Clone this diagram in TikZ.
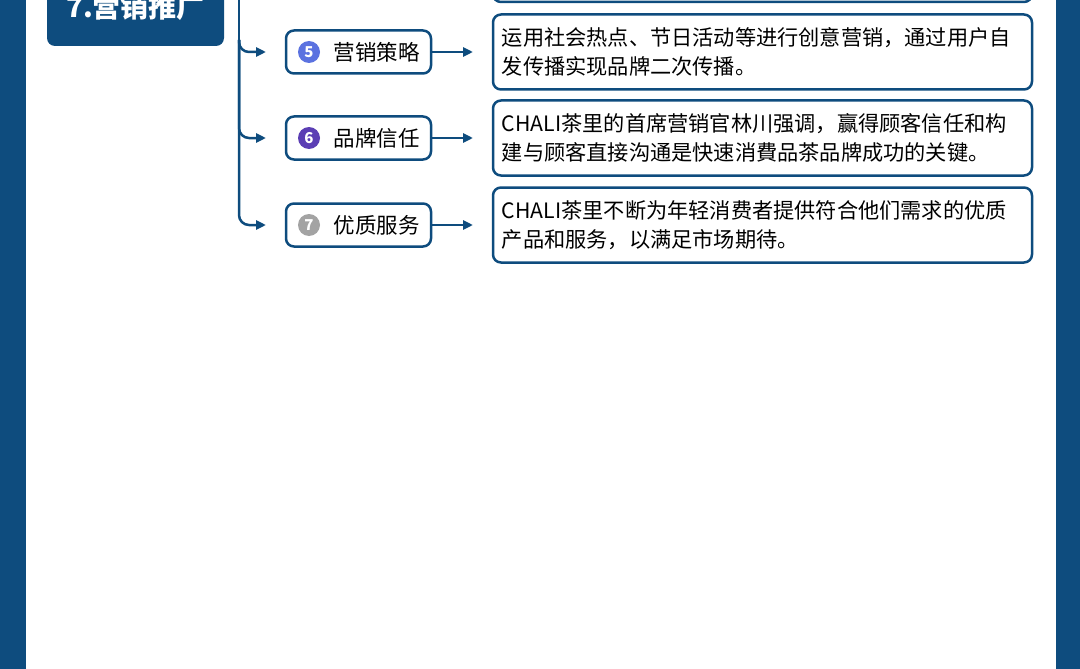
\documentclass[tikz,border=0pt]{standalone}
\usepackage{fontspec}
\setmainfont{Noto Sans CJK SC}
\usetikzlibrary{arrows.meta}
\definecolor{navy}{HTML}{0E4C7E}
\definecolor{cfive}{HTML}{5B72E0}
\definecolor{csix}{HTML}{5B3EB4}
\definecolor{cseven}{HTML}{A3A3A3}
\begin{document}
\begin{tikzpicture}[x=1pt,y=-1pt,
  lab/.style={draw=navy,line width=2.5pt,rounded corners=8pt,fill=white,minimum width=145pt,minimum height=43pt,inner sep=0pt,font=\fontsize{21.5}{24}\selectfont},
  desc/.style={draw=navy,line width=2.5pt,rounded corners=8pt,fill=white,minimum width=539pt,minimum height=75pt,inner sep=0pt},
  txt/.style={font=\fontsize{21.2}{29}\selectfont,text width=530pt,align=left,anchor=west,inner sep=0pt},
  num/.style={circle,fill=#1,text=white,inner sep=0pt,minimum size=22pt,font=\bfseries\fontsize{15}{15}\selectfont},
  arr/.style={draw=navy,line width=2.5pt,-{Triangle[length=10pt,width=9pt]}}]
\useasboundingbox (0,0) rectangle (1080,669);
\fill[navy] (0,0) rectangle (26,669);
\fill[navy] (1056,0) rectangle (1080,669);
\fill[navy,rounded corners=8pt] (47,-20) rectangle (224,46);
\node[text=white,font=\bfseries\fontsize{28}{30}\selectfont,anchor=base] (title) at (135.5,18) {7.营销推广};
\draw[navy,line width=2.5pt,rounded corners=8pt] (493,-20) rectangle (1032,2);
\foreach \y/\n/\c/\t [count=\i] in {52/5/cfive/营销策略,138/6/csix/品牌信任,225/7/cseven/优质服务}{
  \node[lab] (l\i) at (358.5,\y) {\hspace*{36pt}\t};
  \node[num=\c] (n\i) at (309,\y) {\n};
  \node[desc] (d\i) at (762.5,\y) {};
  \coordinate (e\i) at (473,\y);
  \coordinate (a\i) at (266,\y);
  \draw[arr] (l\i.east) -- (e\i);
}
\node[txt] (t1) at ([xshift=10pt]d1.west) {运用社会热点、节日活动等进行创意营销，通过用户自\\发传播实现品牌二次传播。};
\node[txt] (t2) at ([xshift=10pt]d2.west) {CHALI茶里的首席营销官林川强调，赢得顾客信任和构\\建与顾客直接沟通是快速消費品茶品牌成功的关键。};
\node[txt] (t3) at ([xshift=10pt]d3.west) {CHALI茶里不断为年轻消费者提供符合他们需求的优质\\产品和服务，以满足市场期待。};
\coordinate (top) at (239,0);
\draw[navy,line width=2.5pt] (top) -- (239,40);
\draw[arr,rounded corners=10pt] (239,40) |- (a1);
\draw[arr,rounded corners=10pt] (239,40) |- (a2);
\draw[arr,rounded corners=10pt] (239,40) |- (a3);
\end{tikzpicture}
\end{document}
